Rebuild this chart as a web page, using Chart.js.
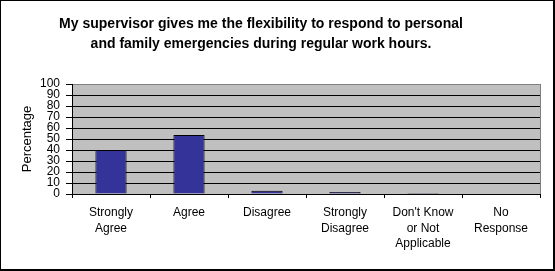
<!DOCTYPE html>
<html>
<head>
<meta charset="utf-8">
<script src="https://cdn.jsdelivr.net/npm/chart.js@4/dist/chart.umd.min.js"></script>
<style>
    html, body { margin: 0; padding: 0; background: #fff; }
    #wrap { width: 555px; height: 271px; }
</style>
</head>
<body>
<div id="wrap"><canvas id="supervisorChart" width="555" height="271"></canvas></div>
<script>
// Données
var categories = [
    ["Strongly", "Agree"],
    "Agree",
    "Disagree",
    ["Strongly", "Disagree"],
    ["Don't Know", "or Not", "Applicable"],
    ["No", "Response"]
];
var percentages = [40, 53.6, 3, 1.8, 1, 0];
var titleLines = [
    "My supervisor gives me the flexibility to respond to personal",
    "and family emergencies during regular work hours."
];
var yTicks = [0, 10, 20, 30, 40, 50, 60, 70, 80, 90, 100];

var fontFamily = 'Arial, "Liberation Sans", sans-serif';

// Fond gris de la zone de tracé, titre et cadre extérieur
var frame = {
    id: 'frame',
    beforeDraw: function(chart) {
        var ctx = chart.ctx;
        var a = chart.chartArea;
        ctx.save();
        ctx.fillStyle = '#fff';
        ctx.fillRect(0, 0, chart.width, chart.height);
        ctx.fillStyle = '#c0c0c0';
        ctx.fillRect(a.left, a.top, a.right - a.left, a.bottom - a.top);
        ctx.restore();
    },
    afterDraw: function(chart) {
        var ctx = chart.ctx;
        var a = chart.chartArea;
        ctx.save();
        // bord droit gris
        ctx.strokeStyle = '#808080';
        ctx.lineWidth = 1;
        ctx.beginPath();
        ctx.moveTo(a.right + 0.5, a.top);
        ctx.lineTo(a.right + 0.5, a.bottom);
        ctx.stroke();
        // titre (centré comme dans l'original, un peu à gauche du milieu)
        ctx.fillStyle = '#000';
        ctx.font = 'bold 14px ' + fontFamily;
        ctx.textAlign = 'center';
        ctx.textBaseline = 'middle';
        for (var i = 0; i < titleLines.length; i++) {
            ctx.fillText(titleLines[i], 261, 24 + i * 20);
        }
        // cadre noir autour de l'image
        ctx.fillRect(0, 0, chart.width, 1);
        ctx.fillRect(0, 0, 1, chart.height);
        ctx.fillRect(chart.width - 2, 0, 2, chart.height);
        ctx.fillRect(0, chart.height - 2, chart.width, 2);
        ctx.restore();
    }
};

var ctx = document.getElementById('supervisorChart').getContext('2d');
var myChart = new Chart(ctx, {
    type: 'bar',
    data: {
        labels: categories,
        datasets: [{
            data: percentages,
            backgroundColor: '#333399',
            borderColor: '#000',
            borderWidth: 1,
            barPercentage: 0.4,
            categoryPercentage: 1
        }]
    },
    options: {
        responsive: false,
        animation: false,
        devicePixelRatio: 1,
        layout: { padding: { left: 0, right: 15, top: 84, bottom: 0 } },
        plugins: {
            legend: { display: false },
            tooltip: { enabled: false },
            title: { display: false }
        },
        scales: {
            x: {
                grid: {
                    drawOnChartArea: false,
                    color: '#000',
                    tickLength: 4,
                    offset: true
                },
                border: { color: '#000', width: 1 },
                ticks: {
                    color: '#000',
                    padding: 7,
                    maxRotation: 0,
                    autoSkip: false,
                    font: { family: fontFamily, size: 12, lineHeight: 15.5 / 12 }
                },
                afterFit: function(scale) { scale.height = 77; }
            },
            y: {
                min: 0,
                max: 100,
                afterBuildTicks: function(scale) {
                    scale.ticks = yTicks.map(function(v) { return { value: v }; });
                },
                grid: {
                    color: function(c) { return c.tick && c.tick.value === 100 ? '#808080' : '#000'; },
                    tickColor: '#000',
                    tickLength: 6
                },
                border: { color: '#000', width: 1 },
                ticks: {
                    color: '#000',
                    padding: 6,
                    autoSkip: false,
                    font: { family: fontFamily, size: 12, lineHeight: 1 }
                },
                title: {
                    display: true,
                    text: 'Percentage',
                    color: '#000',
                    padding: { top: 20, bottom: 0 },
                    font: { family: fontFamily, size: 13 }
                },
                afterFit: function(scale) { scale.width = 72; }
            }
        }
    },
    plugins: [frame]
});
</script>
</body>
</html>
